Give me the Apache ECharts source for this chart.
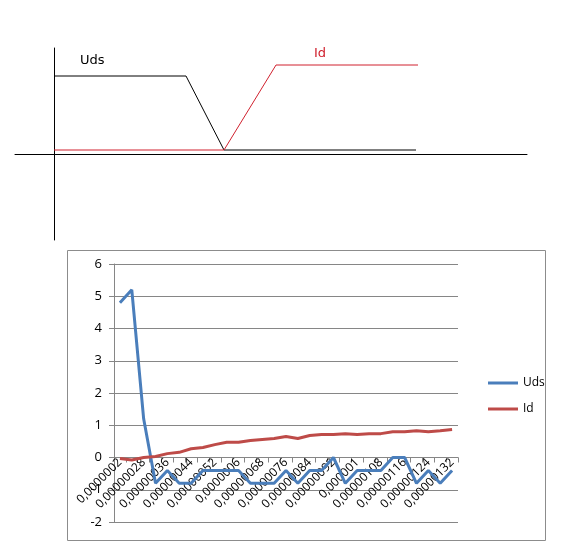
<!DOCTYPE html>
<html>
<head>
<meta charset="utf-8">
<script src="https://cdn.jsdelivr.net/npm/echarts@6/dist/echarts.min.js"></script>
<style>html,body{margin:0;padding:0;background:#fff}#main{width:586px;height:555px}</style>
</head>
<body>
<div id="main"></div>
<script>
// sketch on top (x,y in sketch units)
var sketchUds = [[0, 78], [132, 78], [170, 4], [362, 4]];
var sketchId = [[0, 4], [170, 4], [222, 89], [364, 89]];

// excel chart
var times = ['0,0000002', '0,00000024', '0,00000028', '0,00000032', '0,00000036', '0,0000004',
    '0,00000044', '0,00000048', '0,00000052', '0,00000056', '0,0000006', '0,00000064',
    '0,00000068', '0,00000072', '0,00000076', '0,0000008', '0,00000084', '0,00000088',
    '0,00000092', '0,00000096', '0,000001', '0,00000104', '0,00000108', '0,00000112',
    '0,00000116', '0,0000012', '0,00000124', '0,00000128', '0,00000132'];
var uds = [4.8, 5.2, 1.2, -0.8, -0.4, -0.8, -0.8, -0.4, -0.4, -0.4, -0.4, -0.8, -0.8, -0.8, -0.4,
    -0.8, -0.4, -0.4, 0, -0.8, -0.4, -0.4, -0.4, 0, 0, -0.8, -0.4, -0.8, -0.4];
var id = [-0.03, -0.08, 0, 0.03, 0.12, 0.16, 0.27, 0.31, 0.4, 0.47, 0.47, 0.53, 0.56, 0.59, 0.65,
    0.59, 0.68, 0.71, 0.71, 0.74, 0.71, 0.74, 0.74, 0.8, 0.8, 0.83, 0.8, 0.83, 0.87];

var chart = echarts.init(document.getElementById('main'));
var option = {
    animation: false,
    graphic: [
        {type: 'rect', shape: {x: 67.5, y: 250.5, width: 478, height: 290}, style: {fill: 'none', stroke: '#8c8c8c', lineWidth: 1}, z: -1},
        {type: 'text', left: 80, top: 54, style: {text: 'Uds', fill: '#000', font: '13px "DejaVu Sans"'}},
        {type: 'text', left: 314, top: 47, style: {text: 'Id', fill: '#d0212e', font: '13px "DejaVu Sans"'}}
    ],
    legend: {
        orient: 'vertical',
        left: 483,
        top: 372,
        itemWidth: 30,
        itemHeight: 3,
        itemGap: 14,
        icon: 'rect',
        textStyle: {fontFamily: 'Open Sans', fontSize: 12, color: '#000'},
        data: ['Uds', 'Id']
    },
    grid: [
        {left: 15, right: 59, top: 48, height: 192},
        {left: 114, right: 128, top: 264, height: 258}
    ],
    xAxis: [
        {
            gridIndex: 0, type: 'value', min: -39, max: 473,
            axisLine: {onZero: true, lineStyle: {color: '#000', width: 1}},
            axisTick: {show: false}, axisLabel: {show: false}, splitLine: {show: false}
        },
        {
            gridIndex: 1, type: 'category', data: times, boundaryGap: true,
            position: 'bottom', offset: -64.5,
            axisLine: {onZero: false, lineStyle: {color: '#868686'}},
            axisTick: {show: true, interval: 0, lineStyle: {color: '#868686'}},
            axisLabel: {interval: 1, rotate: 45, fontFamily: 'Open Sans', fontSize: 12, color: '#000', margin: 3},
            splitLine: {show: false}
        }
    ],
    yAxis: [
        {
            gridIndex: 0, type: 'value', min: -86, max: 106,
            axisLine: {show: true, onZero: true, lineStyle: {color: '#000', width: 1}},
            axisTick: {show: false}, axisLabel: {show: false}, splitLine: {show: false}
        },
        {
            gridIndex: 1, type: 'value', min: -2, max: 6, interval: 1,
            axisLine: {show: true, lineStyle: {color: '#868686'}},
            axisTick: {show: true, lineStyle: {color: '#868686'}},
            axisLabel: {fontFamily: 'Open Sans', fontSize: 13, color: '#000', margin: 12},
            splitLine: {lineStyle: {color: '#868686'}}
        }
    ],
    series: [
        {type: 'line', xAxisIndex: 0, yAxisIndex: 0, data: sketchUds, symbol: 'none', lineStyle: {color: '#000', width: 1}},
        {type: 'line', xAxisIndex: 0, yAxisIndex: 0, data: sketchId, symbol: 'none', lineStyle: {color: '#d0212e', width: 1}},
        {name: 'Uds', type: 'line', xAxisIndex: 1, yAxisIndex: 1, data: uds, symbol: 'none', z: 3,
            itemStyle: {color: '#4a7ebb'}, lineStyle: {color: '#4a7ebb', width: 3}},
        {name: 'Id', type: 'line', xAxisIndex: 1, yAxisIndex: 1, data: id, symbol: 'none',
            itemStyle: {color: '#be4b48'}, lineStyle: {color: '#be4b48', width: 3}}
    ]
};
chart.setOption(option);
</script>
</body>
</html>
